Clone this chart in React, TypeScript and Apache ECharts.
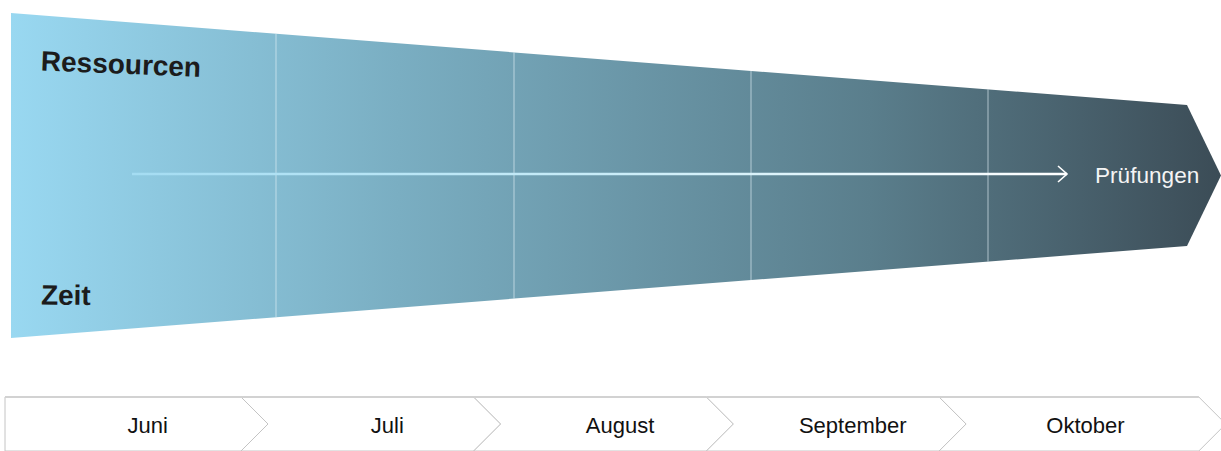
import React, { useEffect, useRef } from "react";
import * as echarts from "echarts";

// ---- data ----
const MONTHS = ["Juni", "Juli", "August", "September", "Oktober"];
const SIDE_LABELS = ["Ressourcen", "Zeit"];
const TARGET_LABEL = "Prüfungen";

// ---- layout (pixels) ----
const W = 1221;
const H = 451;
const FUNNEL = { left: 11, top0: 13, bot0: 338, right: 1187, top1: 105, bot1: 246, tip: 1221 };
const DIVIDERS_X = [276, 514, 751, 988];
const ARROW = { x0: 132, x1: 1067, y: 174 };
const FONT = "'Liberation Sans', Arial, Helvetica, sans-serif";

function edgeY(x: number, which: "top" | "bot") {
  const t = (x - FUNNEL.left) / (FUNNEL.right - FUNNEL.left);
  return which === "top"
    ? FUNNEL.top0 + t * (FUNNEL.top1 - FUNNEL.top0)
    : FUNNEL.bot0 + t * (FUNNEL.bot1 - FUNNEL.bot0);
}

export default function App() {
  const ref = useRef<HTMLDivElement>(null);

  useEffect(() => {
    document.body.style.margin = "0";
    if (!ref.current) return;
    const chart = echarts.init(ref.current, null, { renderer: "svg" });

    const midY = (FUNNEL.top1 + FUNNEL.bot1) / 2;
    const graphic: any[] = [
      {
        type: "polygon",
        z: 1,
        shape: {
          points: [
            [FUNNEL.left, FUNNEL.top0],
            [FUNNEL.right, FUNNEL.top1],
            [FUNNEL.tip, midY],
            [FUNNEL.right, FUNNEL.bot1],
            [FUNNEL.left, FUNNEL.bot0],
          ],
        },
        style: {
          fill: new echarts.graphic.LinearGradient(0, 0, 1, 0, [
            { offset: 0, color: "#99d8f1" },
            { offset: 0.32, color: "#7aaec2" },
            { offset: 0.71, color: "#5a7e8c" },
            { offset: 0.96, color: "#40535e" },
            { offset: 1, color: "#3b4c56" },
          ]),
        },
      },
      ...DIVIDERS_X.map((x) => ({
        type: "line",
        z: 2,
        shape: { x1: x, y1: edgeY(x, "top"), x2: x, y2: edgeY(x, "bot") },
        style: { stroke: "rgba(225,240,246,0.65)", lineWidth: 1 },
      })),
      {
        type: "line",
        z: 3,
        shape: { x1: ARROW.x0, y1: ARROW.y, x2: ARROW.x1, y2: ARROW.y },
        style: {
          stroke: new echarts.graphic.LinearGradient(
            ARROW.x0, 0, ARROW.x1, 0,
            [
              { offset: 0, color: "#a4dcf2" },
              { offset: 0.5, color: "#c8ecf8" },
              { offset: 1, color: "#ffffff" },
            ],
            true
          ),
          lineWidth: 2.5,
        },
      },
      {
        type: "polyline",
        z: 3,
        shape: {
          points: [
            [ARROW.x1 - 9, ARROW.y - 8],
            [ARROW.x1, ARROW.y],
            [ARROW.x1 - 9, ARROW.y + 8],
          ],
        },
        style: { stroke: "#ffffff", lineWidth: 1.6, fill: "none" },
      },
      {
        type: "text",
        z: 4,
        x: 41,
        y: 61,
        rotation: -0.04,
        style: {
          text: SIDE_LABELS[0],
          font: `bold 28px ${FONT}`,
          fill: "#1c1c1c",
          align: "left",
          verticalAlign: "middle",
        },
      },
      {
        type: "text",
        z: 4,
        x: 41,
        y: 295,
        rotation: -0.01,
        style: {
          text: SIDE_LABELS[1],
          font: `bold 28px ${FONT}`,
          fill: "#1c1c1c",
          align: "left",
          verticalAlign: "middle",
        },
      },
      {
        type: "text",
        z: 4,
        x: 1095,
        y: 175,
        style: {
          text: TARGET_LABEL,
          font: `22.6px ${FONT}`,
          fill: "#f4f4f4",
          align: "left",
          verticalAlign: "middle",
        },
      },
    ];

    chart.setOption({
      animation: false,
      grid: { left: 35.3, top: 397, width: 1163.5, height: 56 },
      xAxis: { type: "value", min: 0, max: MONTHS.length, show: false },
      yAxis: { type: "value", min: 0, max: 1, show: false },
      graphic,
      series: [
        {
          type: "custom",
          clip: false,
          data: MONTHS.map((m, i) => [i, m]),
          renderItem: (params: any, api: any) => {
            const i = api.value(0) as number;
            const n = MONTHS.length;
            const [xl, yTop] = api.coord([i, 1]);
            const [xr, yBot] = api.coord([i + 1, 0]);
            const d = (yBot - yTop) / 2;
            const mid = yTop + d;
            const L = i === 0 ? 5 : xl - d;
            const notch = i === 0 ? 5 : xl;
            const R = i === n - 1 ? xr : xr - d;
            const tip = R + d;
            const textX = (xl + xr) / 2 + (i === 0 ? -4 : 3);
            return {
              type: "group",
              children: [
                {
                  type: "polygon",
                  shape: {
                    points: [
                      [L, yTop],
                      [R, yTop],
                      [tip, mid],
                      [R, yBot],
                      [L, yBot],
                      [notch, mid],
                    ],
                  },
                  style: { fill: "#ffffff", stroke: "#c4c4c4", lineWidth: 1 },
                },
                {
                  type: "line",
                  shape: { x1: L, y1: yTop, x2: R, y2: yTop },
                  style: { stroke: "#d2d2d2", lineWidth: 2 },
                },
                {
                  type: "text",
                  style: {
                    text: MONTHS[i],
                    x: textX,
                    y: mid + 1,
                    font: `22px ${FONT}`,
                    fill: "#111111",
                    align: "center",
                    verticalAlign: "middle",
                  },
                },
              ],
            };
          },
        },
      ],
    });

    return () => chart.dispose();
  }, []);

  return <div ref={ref} style={{ width: W, height: H }} />;
}
